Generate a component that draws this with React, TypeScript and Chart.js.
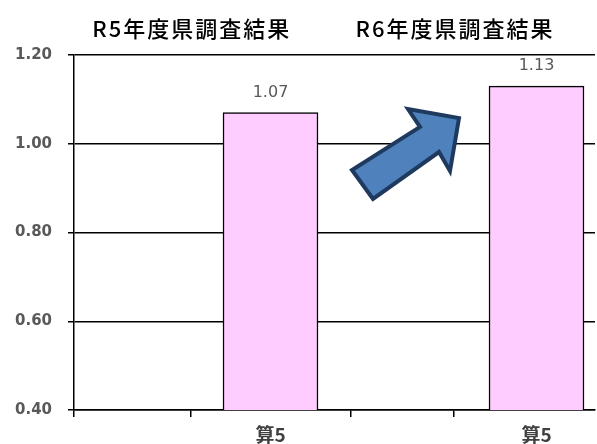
import React, { useEffect, useRef } from "react";
import { Chart, registerables } from "chart.js";

Chart.register(...registerables);

// ---- data ----
const surveys = ["R5年度県調査結果", "R6年度県調査結果"];
const subjects = ["算5", "算5"];
const values = [1.07, 1.13];
const yTicks = [0.4, 0.6, 0.8, 1.0, 1.2];
// category boundaries of the (cropped) original section axes
const sectionEdges = [-0.3, 0.3, 0.69];
const titleAnchors = [-0.3, 0.69];
const xMin = -0.7387;
const xMax = 1.2199;

const decorPlugin = {
  id: "decor",
  afterDatasetsDraw(chart: any) {
    const ctx = chart.ctx as CanvasRenderingContext2D;
    const xs = chart.scales.x;
    const ys = chart.scales.y;
    ctx.save();
    // value labels
    ctx.font = "16px 'DejaVu Sans'";
    ctx.fillStyle = "#595959";
    ctx.textAlign = "center";
    ctx.textBaseline = "middle";
    values.forEach((v, i) => {
      ctx.fillText(v.toFixed(2), xs.getPixelForValue(i), ys.getPixelForValue(v) - 20);
    });
    // titles
    ctx.font = "500 22px 'Noto Sans CJK JP'";
    ctx.fillStyle = "#000";
    (ctx as any).letterSpacing = "2px";
    surveys.forEach((t, i) => {
      ctx.fillText(t, xs.getPixelForValue(titleAnchors[i]) + 1, 29);
    });
    (ctx as any).letterSpacing = "0px";
    // arrow annotation
    ctx.beginPath();
    ctx.moveTo(352, 170);
    ctx.lineTo(373, 199);
    ctx.lineTo(439, 152);
    ctx.lineTo(450, 171);
    ctx.lineTo(459, 118);
    ctx.lineTo(408, 109);
    ctx.lineTo(420, 127);
    ctx.closePath();
    ctx.fillStyle = "#4F81BD";
    ctx.fill();
    ctx.lineWidth = 4;
    ctx.lineJoin = "miter";
    ctx.strokeStyle = "#1F3A5F";
    ctx.stroke();
    ctx.restore();
  },
};

export default function App() {
  const ref = useRef<HTMLCanvasElement>(null);
  useEffect(() => {
    if (!ref.current) return;
    const chart = new Chart(ref.current, {
      type: "bar",
      data: {
        datasets: [
          {
            data: values.map((v, i) => ({ x: i, y: v })),
            backgroundColor: "#FFCCFF",
            borderColor: "#000000",
            borderWidth: 1.5,
            barThickness: 95,
          },
        ],
      },
      options: {
        animation: false,
        responsive: false,
        layout: { padding: { top: 55, right: 2, left: 0, bottom: 0 } },
        plugins: { legend: { display: false }, tooltip: { enabled: false }, title: { display: false } },
        scales: {
          x: {
            type: "linear",
            min: xMin,
            max: xMax,
            offset: false,
            afterBuildTicks: (s: any) => {
              const t = [xMin, ...sectionEdges, ...subjects.map((_, i) => i)].sort((a, b) => a - b);
              s.ticks = t.map((v) => ({ value: v }));
            },
            afterFit: (s: any) => {
              s.height = 34;
            },
            ticks: {
              autoSkip: false,
              maxRotation: 0,
              padding: 6,
              color: "#404040",
              font: { family: "'Noto Sans CJK JP'", size: 19, weight: "bold" },
              callback: (v: any) => (Number.isInteger(v) ? subjects[v] : ""),
            },
            grid: {
              offset: false,
              drawOnChartArea: false,
              drawTicks: true,
              tickLength: 7,
              lineWidth: 1.5,
              tickColor: (c: any) => (c.tick && Number.isInteger(c.tick.value) ? "rgba(0,0,0,0)" : "#000"),
            },
            border: { display: true, color: "#000", width: 1.5 },
          },
          y: {
            type: "linear",
            min: 0.4,
            max: 1.2,
            beginAtZero: false,
            afterBuildTicks: (s: any) => {
              s.ticks = yTicks.map((v) => ({ value: v }));
            },
            afterFit: (s: any) => {
              s.width = 74;
            },
            ticks: {
              padding: 16,
              color: "#595959",
              font: { family: "'DejaVu Sans'", size: 15, weight: "bold" },
              callback: (v: any) => Number(v).toFixed(2),
            },
            grid: { color: "#000", lineWidth: 1.5, tickLength: 6, drawTicks: true },
            border: { display: true, color: "#000", width: 1.5 },
          },
        },
      },
      plugins: [decorPlugin],
    });
    return () => chart.destroy();
  }, []);
  return (
    <div style={{ position: "fixed", left: 0, top: 0, width: 597, height: 444, background: "#fff" }}>
      <canvas ref={ref} width={597} height={444} style={{ display: "block", width: 597, height: 444 }} />
    </div>
  );
}
